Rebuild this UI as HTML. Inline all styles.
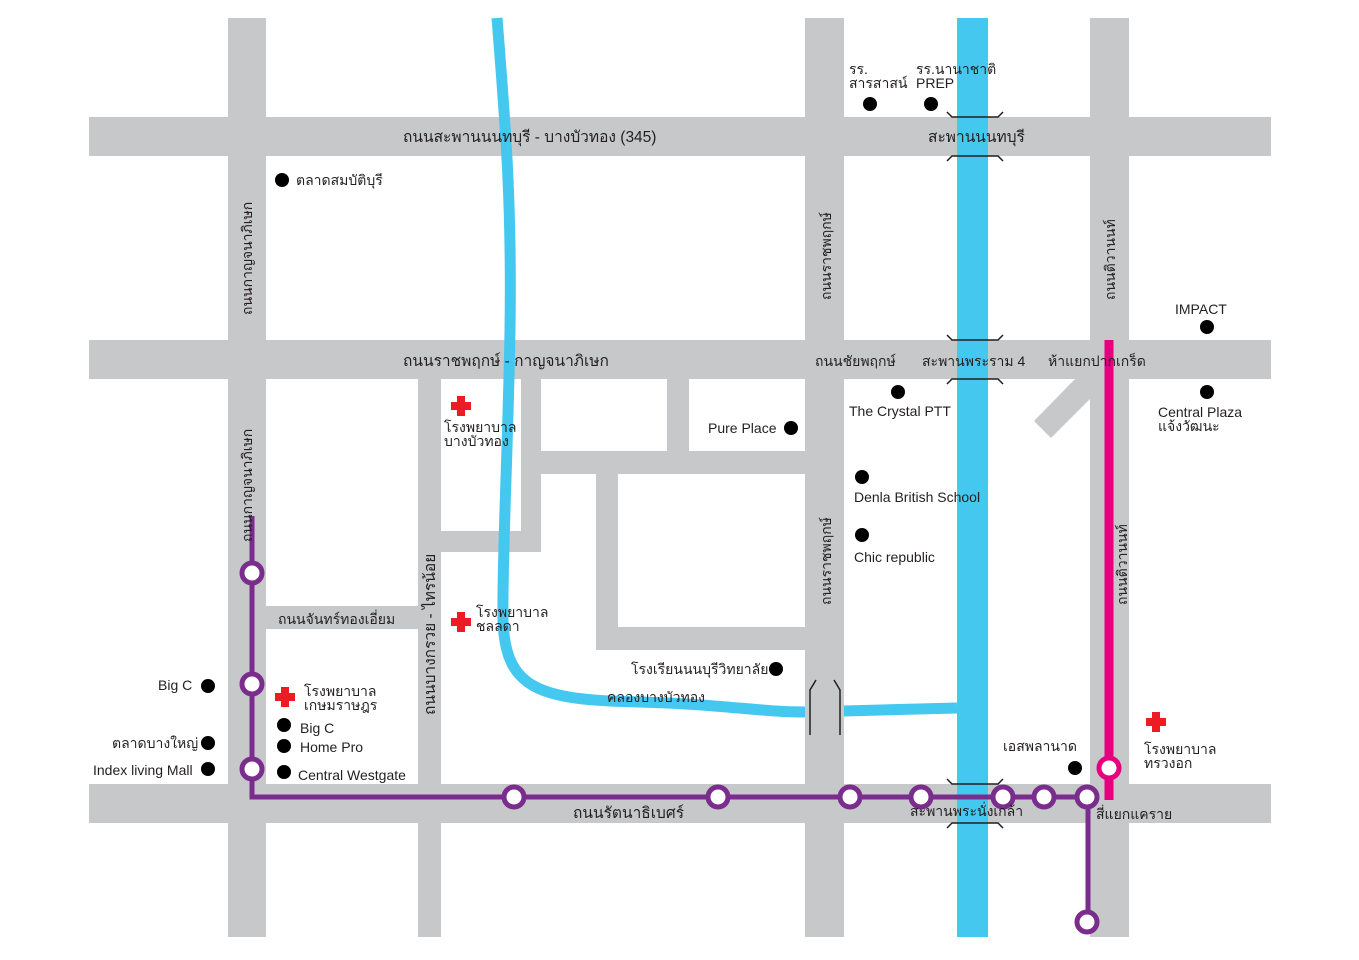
<!DOCTYPE html>
<html><head><meta charset="utf-8"><style>
html,body{margin:0;padding:0;background:#fff;}
svg{display:block;}
text{font-family:"Liberation Sans","Noto Sans CJK SC",sans-serif;font-size:14px;fill:#231f20;}
text.t{font-size:15.5px;}
</style></head><body>
<svg width="1359" height="960" viewBox="0 0 1359 960" xmlns="http://www.w3.org/2000/svg">
<g fill="#c7c8ca">
<rect x="89" y="117" width="1182" height="39"/>
<rect x="89" y="340" width="1182" height="39"/>
<rect x="89" y="784" width="1182" height="39"/>
<rect x="228" y="18" width="38" height="919"/>
<rect x="805" y="18" width="39" height="919"/>
<rect x="1090" y="18" width="39" height="919"/>
<rect x="418" y="379" width="23" height="558"/>
<rect x="521" y="379" width="20" height="173"/>
<rect x="441" y="531" width="100" height="21"/>
<rect x="541" y="451" width="264" height="23"/>
<rect x="667" y="379" width="22" height="72"/>
<rect x="596" y="474" width="22" height="176"/>
<rect x="596" y="627" width="209" height="23"/>
<rect x="266" y="606" width="152" height="23"/>
<polygon points="1075,379 1097,379 1097,392 1051,438 1034,421"/>
</g>
<rect x="957" y="18" width="31" height="919" fill="#45c8f0"/>
<path d="M497,18 C505,120 512,200 510,330 C508,450 502,560 503,620 C505,690 540,700 640,702 C720,704 760,712 805,712 L844,711 L957,708" fill="none" stroke="#45c8f0" stroke-width="11"/>
<rect x="805" y="700" width="39" height="18" fill="#c7c8ca"/>
<g fill="none" stroke="#231f20" stroke-width="1.5">
<path d="M947,112 L952,117 L998,117 L1003,112"/><path d="M947,161 L952,156 L998,156 L1003,161"/>
<path d="M947,335 L952,340 L998,340 L1003,335"/><path d="M947,384 L952,379 L998,379 L1003,384"/>
<path d="M947,779 L952,784 L998,784 L1003,779"/><path d="M947,828 L952,823 L998,823 L1003,828"/>
<path d="M816,680 L810,690 L810,735"/><path d="M834,680 L840,690 L840,735"/>
</g>
<line x1="1109" y1="340" x2="1109" y2="800" stroke="#e6007e" stroke-width="9"/>
<circle cx="1109" cy="768" r="10" fill="#fff" stroke="#e6007e" stroke-width="5"/>
<polyline points="252,516 252,797 1088,797 1088,922" fill="none" stroke="#7b2d8e" stroke-width="5"/>
<g fill="#fff" stroke="#7b2d8e" stroke-width="5">
<circle cx="252" cy="573" r="10"/><circle cx="252" cy="684" r="10"/><circle cx="252" cy="769" r="10"/>
<circle cx="514" cy="797" r="10"/><circle cx="718" cy="797" r="10"/><circle cx="850" cy="797" r="10"/>
<circle cx="921" cy="797" r="10"/><circle cx="1003" cy="797" r="10"/><circle cx="1044" cy="797" r="10"/>
<circle cx="1087" cy="797" r="10"/><circle cx="1087" cy="922" r="10"/>
</g>
<g fill="#000">
<circle cx="282" cy="180" r="7"/><circle cx="870" cy="104" r="7"/><circle cx="931" cy="104" r="7"/>
<circle cx="1207" cy="327" r="7"/><circle cx="898" cy="392" r="7"/><circle cx="1207" cy="392" r="7"/>
<circle cx="791" cy="428" r="7"/><circle cx="862" cy="477" r="7"/><circle cx="862" cy="535" r="7"/>
<circle cx="776" cy="669" r="7"/><circle cx="208" cy="686" r="7"/><circle cx="208" cy="743" r="7"/>
<circle cx="208" cy="769" r="7"/><circle cx="284" cy="725" r="7"/><circle cx="284" cy="746" r="7"/>
<circle cx="284" cy="772" r="7"/><circle cx="1075" cy="768" r="7"/>
</g>
<g fill="#ed1c24">
<rect x="457" y="396" width="8" height="20"/><rect x="451" y="402" width="20" height="8"/>
<rect x="457" y="612" width="8" height="20"/><rect x="451" y="618" width="20" height="8"/>
<rect x="281" y="687" width="8" height="20"/><rect x="275" y="693" width="20" height="8"/>
<rect x="1152" y="712" width="8" height="20"/><rect x="1146" y="718" width="20" height="8"/>
</g>
<text class="t" x="403" y="142">ถนนสะพานนนทบุรี - บางบัวทอง (345)</text>
<text class="t" x="928" y="142">สะพานนนทบุรี</text>
<text x="296" y="185">ตลาดสมบัติบุรี</text>
<text x="849" y="74">รร.</text><text x="849" y="88">สารสาสน์</text>
<text x="916" y="74">รร.นานาชาติ</text><text x="916" y="88">PREP</text>
<text x="1175" y="314">IMPACT</text>
<text class="t" x="403" y="366">ถนนราชพฤกษ์ - กาญจนาภิเษก</text>
<text x="815" y="366">ถนนชัยพฤกษ์</text>
<text x="922" y="366">สะพานพระราม 4</text>
<text x="1048" y="366">ห้าแยกปากเกร็ด</text>
<text x="849" y="416">The Crystal PTT</text>
<text x="1158" y="417">Central Plaza</text><text x="1158" y="431">แจ้งวัฒนะ</text>
<text x="708" y="433">Pure Place</text>
<text x="854" y="502">Denla British School</text>
<text x="854" y="562">Chic republic</text>
<text x="444" y="432">โรงพยาบาล</text><text x="444" y="446">บางบัวทอง</text>
<text x="476" y="617">โรงพยาบาล</text><text x="476" y="631">ชลลดา</text>
<text x="278" y="624">ถนนจันทร์ทองเอี่ยม</text>
<text x="631" y="674">โรงเรียนนนบุรีวิทยาลัย</text>
<text x="607" y="702">คลองบางบัวทอง</text>
<text x="158" y="690">Big C</text>
<text x="112" y="748">ตลาดบางใหญ่</text>
<text x="93" y="775">Index living Mall</text>
<text x="304" y="696">โรงพยาบาล</text><text x="304" y="710">เกษมราษฎร</text>
<text x="300" y="733">Big C</text>
<text x="300" y="752">Home Pro</text>
<text x="298" y="780">Central Westgate</text>
<text x="1003" y="751">เอสพลานาด</text>
<text x="1144" y="754">โรงพยาบาล</text><text x="1144" y="768">ทรวงอก</text>
<text class="t" x="573" y="818">ถนนรัตนาธิเบศร์</text>
<text x="910" y="816">สะพานพระนั่งเกล้า</text>
<text x="1096" y="819">สี่แยกแคราย</text>
<text x="0" y="0" transform="translate(252,315) rotate(-90)">ถนนกาญจนาภิเษก</text>
<text transform="translate(252,542) rotate(-90)">ถนนกาญจนาภิเษก</text>
<text transform="translate(831,300) rotate(-90)">ถนนราชพฤกษ์</text>
<text transform="translate(831,605) rotate(-90)">ถนนราชพฤกษ์</text>
<text transform="translate(1115,300) rotate(-90)">ถนนติวานนท์</text>
<text transform="translate(1127,605) rotate(-90)">ถนนติวานนท์</text>
<text class="t" transform="translate(435,715) rotate(-90)">ถนนบางกรวย - ไทรน้อย</text>
</svg>
</body></html>
